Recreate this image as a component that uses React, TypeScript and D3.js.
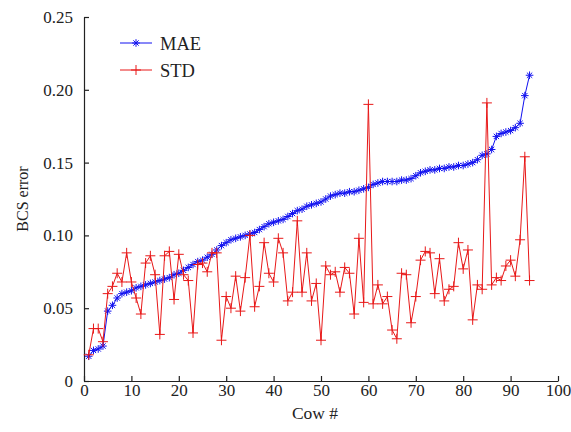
import React, { useEffect, useRef } from 'react';
import * as d3 from 'd3';

// MAE per cow (sorted ascending)
const maeValues = [
  0.017, 0.021, 0.022, 0.024, 0.048, 0.052, 0.057, 0.06, 0.061, 0.062,
  0.064, 0.065, 0.066, 0.067, 0.068, 0.069, 0.07, 0.071, 0.073, 0.074,
  0.076, 0.078, 0.08, 0.082, 0.083, 0.085, 0.087, 0.09, 0.093, 0.095,
  0.097, 0.098, 0.099, 0.1, 0.101, 0.102, 0.104, 0.106, 0.108, 0.109,
  0.11, 0.111, 0.113, 0.115, 0.117, 0.118, 0.12, 0.121, 0.122, 0.123,
  0.125, 0.127, 0.128, 0.129, 0.129, 0.13, 0.13, 0.131, 0.132, 0.133,
  0.135, 0.136, 0.137, 0.137, 0.137, 0.137, 0.138, 0.138, 0.139, 0.141,
  0.143, 0.144, 0.145, 0.145, 0.146, 0.146, 0.147, 0.147, 0.148, 0.148,
  0.149, 0.15, 0.152, 0.155, 0.156, 0.159, 0.168, 0.17, 0.171, 0.172,
  0.174, 0.177, 0.196, 0.21,
];

// STD per cow
const stdValues = [
  0.018, 0.036, 0.036, 0.027, 0.06, 0.065, 0.074, 0.068, 0.088, 0.068,
  0.057, 0.046, 0.081, 0.086, 0.073, 0.032, 0.086, 0.089, 0.056, 0.087,
  0.073, 0.069, 0.033, 0.08, 0.081, 0.075, 0.088, 0.088, 0.028, 0.058,
  0.05, 0.072, 0.048, 0.071, 0.1, 0.051, 0.065, 0.095, 0.074, 0.068,
  0.098, 0.088, 0.055, 0.061, 0.11, 0.061, 0.088, 0.055, 0.067, 0.028,
  0.079, 0.073, 0.075, 0.061, 0.078, 0.074, 0.046, 0.098, 0.054, 0.19,
  0.053, 0.066, 0.053, 0.058, 0.035, 0.029, 0.074, 0.073, 0.04, 0.058,
  0.083, 0.089, 0.088, 0.06, 0.084, 0.055, 0.063, 0.065, 0.095, 0.077,
  0.09, 0.042, 0.066, 0.063, 0.191, 0.066, 0.071, 0.069, 0.079, 0.083,
  0.072, 0.097, 0.154, 0.069,
];

const xTicks = [0, 10, 20, 30, 40, 50, 60, 70, 80, 90, 100];
const yTicks = [0, 0.05, 0.1, 0.15, 0.2, 0.25];
const yTickLabels = ['0', '0.05', '0.10', '0.15', '0.20', '0.25'];
const seriesNames = ['MAE', 'STD'];

export default function App() {
  const ref = useRef<SVGSVGElement>(null);

  useEffect(() => {
    const width = 571;
    const height = 432;
    const margin = { top: 17, right: 13, bottom: 51, left: 84 };
    const font = '"Liberation Serif", "Times New Roman", serif';
    const blue = '#1010f0';
    const red = '#e81818';

    const svg = d3.select(ref.current);
    svg.selectAll('*').remove();

    const x = d3.scaleLinear().domain([0, 100]).range([margin.left, width - margin.right]);
    const y = d3.scaleLinear().domain([0, 0.25]).range([height - margin.bottom, margin.top]);

    const g = svg.append('g');

    // axes (left + bottom only, ticks pointing in)
    const xAxis = g
      .append('g')
      .attr('transform', `translate(0,${y(0)})`)
      .call(d3.axisBottom(x).tickValues(xTicks).tickSizeInner(-5).tickSizeOuter(0).tickPadding(3));
    const yAxis = g
      .append('g')
      .attr('transform', `translate(${x(0)},0)`)
      .call(
        d3
          .axisLeft(y)
          .tickValues(yTicks)
          .tickFormat((d, i) => yTickLabels[i])
          .tickSizeInner(-5)
          .tickSizeOuter(0)
          .tickPadding(11),
      );
    [xAxis, yAxis].forEach((a) => {
      a.selectAll('path,line').attr('stroke', '#222').attr('stroke-width', 1.2);
      a.selectAll('text').attr('font-family', font).attr('font-size', 17).attr('fill', '#222');
    });

    // axis titles
    g.append('text')
      .attr('x', (x(0) + x(100)) / 2 - 6)
      .attr('y', 419)
      .attr('text-anchor', 'middle')
      .attr('font-family', font)
      .attr('font-size', 17.5)
      .attr('fill', '#222')
      .text('Cow #');
    g.append('text')
      .attr('transform', `translate(28,${(y(0) + y(0.25)) / 2}) rotate(-90)`)
      .attr('text-anchor', 'middle')
      .attr('font-family', font)
      .attr('font-size', 16)
      .attr('fill', '#222')
      .text('BCS error');

    const line = d3
      .line<number>()
      .x((d, i) => x(i + 1))
      .y((d) => y(d));

    const asterisk = (sel: any, r: number) => {
      sel.append('path').attr(
        'd',
        `M${-r},0H${r}M0,${-r}V${r}M${-r * 0.7},${-r * 0.7}L${r * 0.7},${r * 0.7}M${-r * 0.7},${r * 0.7}L${r * 0.7},${-r * 0.7}`,
      );
    };
    const plus = (sel: any, r: number) => {
      sel.append('path').attr('d', `M${-r},0H${r}M0,${-r}V${r}`);
    };

    // MAE
    g.append('path').datum(maeValues).attr('d', line).attr('fill', 'none').attr('stroke', blue).attr('stroke-width', 1);
    g.append('g')
      .attr('stroke', blue)
      .attr('stroke-width', 1)
      .selectAll('g')
      .data(maeValues)
      .join('g')
      .attr('transform', (d, i) => `translate(${x(i + 1)},${y(d)})`)
      .each(function () {
        asterisk(d3.select(this), 3.8);
      });

    // STD
    g.append('path').datum(stdValues).attr('d', line).attr('fill', 'none').attr('stroke', red).attr('stroke-width', 1);
    g.append('g')
      .attr('stroke', red)
      .attr('stroke-width', 1)
      .selectAll('g')
      .data(stdValues)
      .join('g')
      .attr('transform', (d, i) => `translate(${x(i + 1)},${y(d)})`)
      .each(function () {
        plus(d3.select(this), 5);
      });

    // legend
    const legend = g.append('g').attr('transform', 'translate(120,43)');
    seriesNames.forEach((name, i) => {
      const color = i === 0 ? blue : red;
      const row = legend.append('g').attr('transform', `translate(0,${i * 27})`);
      row.append('line').attr('x1', 0).attr('x2', 32).attr('stroke', color).attr('stroke-width', 1);
      const m = row.append('g').attr('transform', 'translate(16,0)').attr('stroke', color);
      if (i === 0) asterisk(m, 3.8);
      else plus(m, 5);
      row
        .append('text')
        .attr('x', 40)
        .attr('y', 6.5)
        .attr('font-family', font)
        .attr('font-size', 18.5)
        .attr('fill', '#222')
        .text(name);
    });
  });

  return (
    <svg
      ref={ref}
      width={571}
      height={432}
      style={{ position: 'absolute', left: 0, top: 0, background: '#fff' }}
    />
  );
}
